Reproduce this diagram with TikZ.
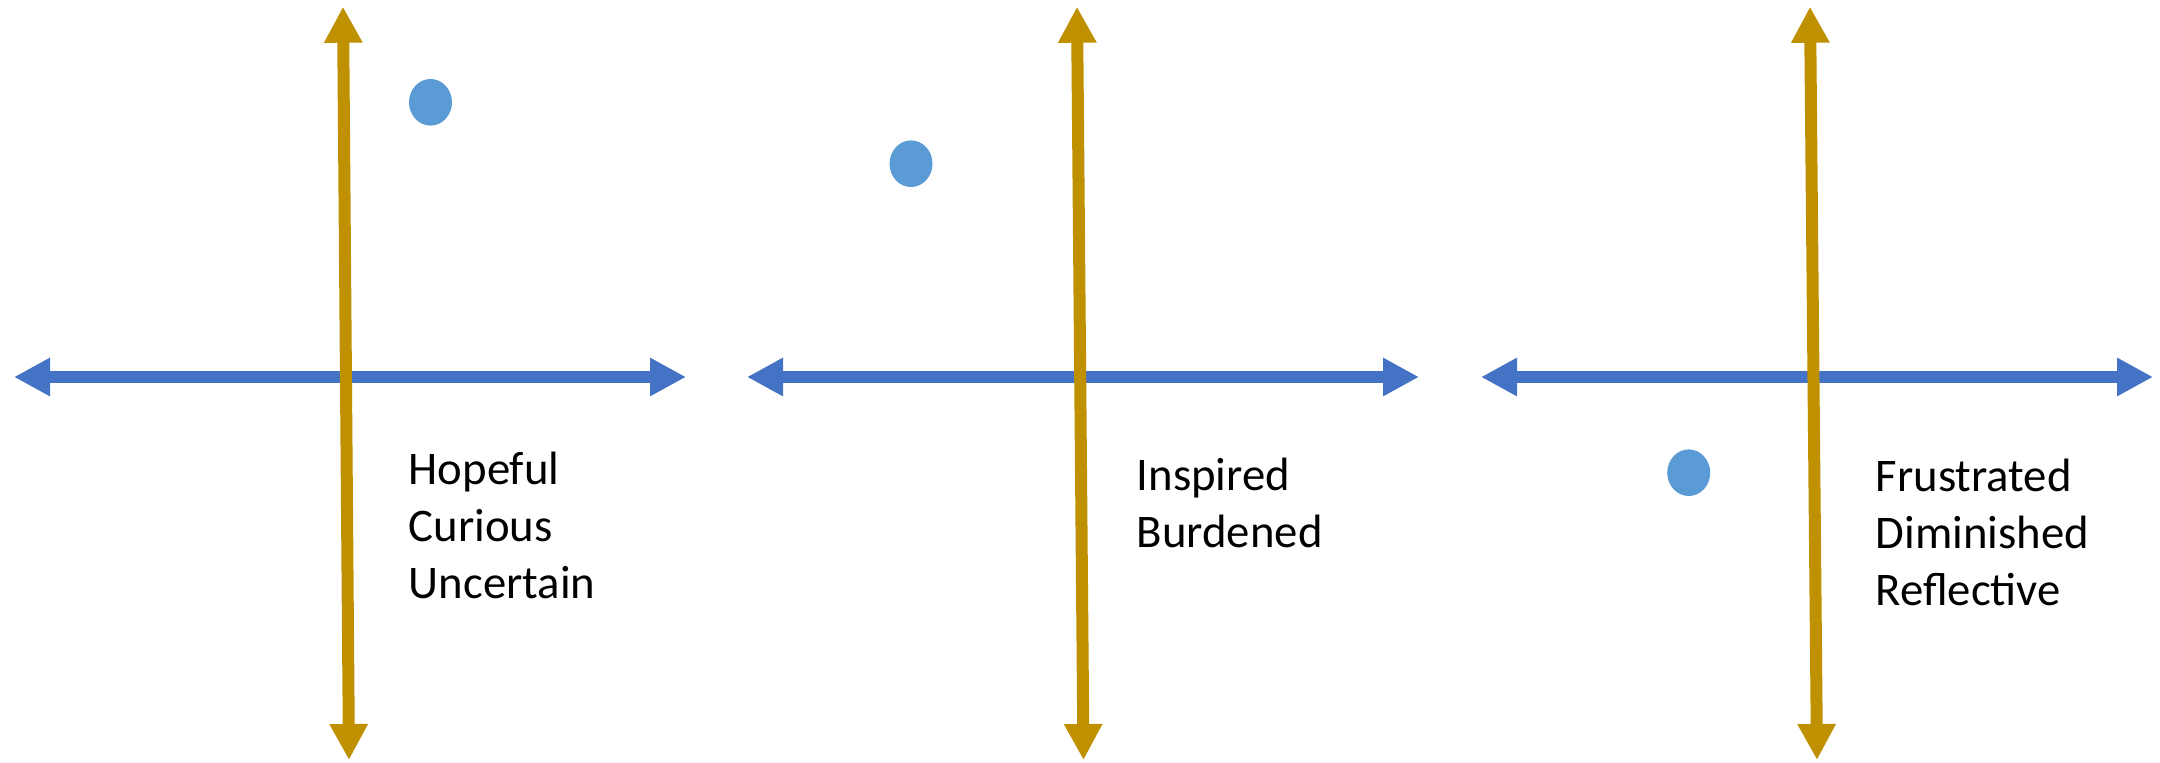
\documentclass[tikz,border=0pt]{standalone}
\usepackage{fontspec}
\setmainfont{Carlito}
\usetikzlibrary{arrows.meta,shapes.geometric}
\definecolor{axisblue}{HTML}{4472C4}
\definecolor{axisgold}{HTML}{BF9000}
\definecolor{dotblue}{HTML}{5B9BD5}
\begin{document}
\begin{tikzpicture}[
   x=1cm,y=1cm,
   haxis/.style={draw=axisblue,line width=0.12cm,{Triangle[length=0.36cm,width=0.36cm]}-{Triangle[length=0.36cm,width=0.36cm]}},
   vaxis/.style={draw=axisgold,line width=0.12cm,{Triangle[length=0.36cm,width=0.36cm]}-{Triangle[length=0.36cm,width=0.36cm]}},
   mood/.style={ellipse,fill=dotblue,minimum width=0.43cm,minimum height=0.466cm,inner sep=0pt},
   words/.style={anchor=base west,align=left,inner sep=0pt,font=\fontsize{13.3}{16.2}\selectfont}
 ]
  \useasboundingbox (0,0) rectangle (21.6,7.62);

  % first panel
  \coordinate (h1l) at (0.14,3.85);
  \coordinate (h1r) at (6.86,3.85);
  \coordinate (v1t) at (3.43,7.553);
  \coordinate (v1b) at (3.49,0.02);
  \draw[haxis] (h1l) -- (h1r);
  \draw[vaxis] (v1t) -- (v1b);
  \node[mood] (dot1) at (4.305,6.597) {};
  \node[words] (words1) at (4.08,1.637) {Hopeful\\Curious\\Uncertain};

  % second panel
  \coordinate (h2l) at (7.47,3.85);
  \coordinate (h2r) at (14.19,3.85);
  \coordinate (v2t) at (10.77,7.553);
  \coordinate (v2b) at (10.835,0.02);
  \draw[haxis] (h2l) -- (h2r);
  \draw[vaxis] (v2t) -- (v2b);
  \node[mood] (dot2) at (9.11,5.983) {};
  \node[words] (words2) at (11.36,2.147) {Inspired\\Burdened};

  % third panel
  \coordinate (h3l) at (14.81,3.85);
  \coordinate (h3r) at (21.53,3.85);
  \coordinate (v3t) at (18.10,7.553);
  \coordinate (v3b) at (18.17,0.02);
  \draw[haxis] (h3l) -- (h3r);
  \draw[vaxis] (v3t) -- (v3b);
  \node[mood] (dot3) at (16.887,2.893) {};
  \node[words] (words3) at (18.75,1.563) {Frustrated\\Diminished\\Reflective};
 \end{tikzpicture}
\end{document}
